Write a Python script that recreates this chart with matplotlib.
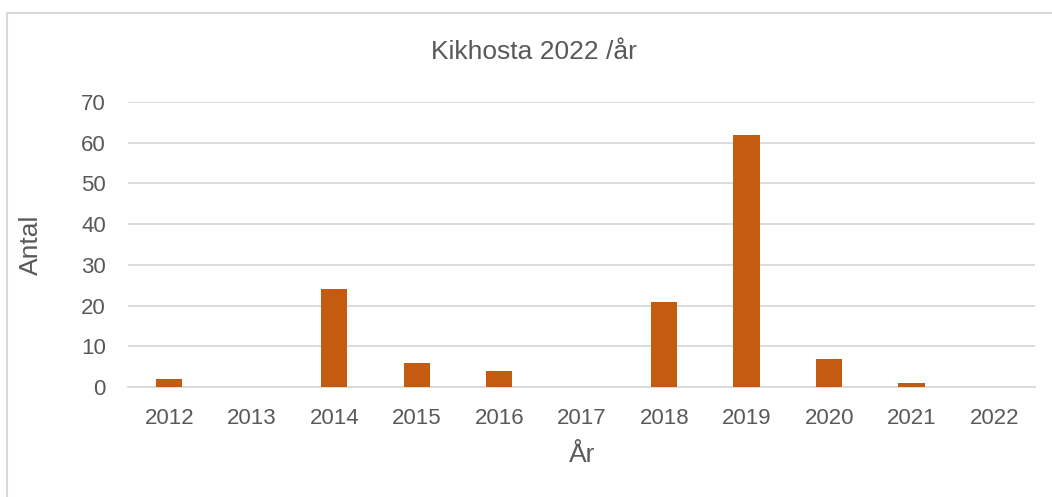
import matplotlib
matplotlib.use("Agg")
import matplotlib.pyplot as plt
from matplotlib.lines import Line2D

years = ["2012", "2013", "2014", "2015", "2016", "2017", "2018", "2019", "2020", "2021", "2022"]
counts = [2, 0, 24, 6, 4, 0, 21, 62, 7, 1, 0]
title = "Kikhosta 2022 /år"
ylabel = "Antal"
xlabel = "År"

plt.rcParams['font.family'] = ['Liberation Sans', 'DejaVu Sans']
text_color = "#595959"
grid_color = "#D9D9D9"
bar_color = "#C55A11"

fig = plt.figure(figsize=(10.52, 4.97), dpi=100)
ax = fig.add_axes([0.1217, 0.2213, 0.8625, 0.5735])

x = list(range(len(years)))
ax.bar(x, counts, width=0.32, color=bar_color, zorder=3)
ax.set_xlim(-0.5, len(years) - 0.5)
ax.set_ylim(0, 70)
ax.set_yticks(range(0, 71, 10))
ax.set_xticks(x)
ax.set_xticklabels(years)
ax.grid(axis='y', color=grid_color, linewidth=1.3, zorder=0)
for s in ["top", "right", "left"]:
    ax.spines[s].set_visible(False)
ax.spines["bottom"].set_color(grid_color)
ax.spines["bottom"].set_linewidth(1.3)
ax.tick_params(axis='both', length=0, labelsize=16, colors=text_color)
ax.tick_params(axis='x', pad=15)
ax.tick_params(axis='y', pad=16)

ax.set_ylabel(ylabel, fontsize=19, color=text_color)
ax.yaxis.set_label_coords(-0.094, 0.5)
ax.set_xlabel(xlabel, fontsize=19, color=text_color)
ax.xaxis.set_label_coords(0.5, -0.195)
fig.text(0.508, 0.895, title, fontsize=19, color=text_color, ha='center', va='center')

fig.add_artist(Line2D([0.0067, 1.0], [0.974, 0.974], color=grid_color, linewidth=1.5, transform=fig.transFigure))
fig.add_artist(Line2D([0.0067, 0.0067], [0.0, 0.974], color=grid_color, linewidth=1.5, transform=fig.transFigure))

fig.savefig("out.png", dpi=100, facecolor="white")
